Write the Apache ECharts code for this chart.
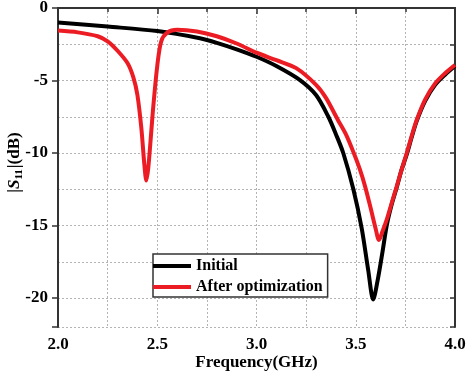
<!DOCTYPE html>
<html>
<head>
<meta charset="utf-8">
<script src="https://cdn.jsdelivr.net/npm/echarts@6/dist/echarts.min.js"></script>
<style>
  html, body { margin: 0; padding: 0; background: #fff; }
  #chart { width: 467px; height: 376px; }
</style>
</head>
<body>
<div id="chart"></div>
<script>
// 数据: 频率 (GHz) / |S11| (dB)
var freqInitial = [2.0, 2.25, 2.5, 2.715, 2.8, 2.9, 3.0, 3.1, 3.219, 3.3, 3.362, 3.40, 3.437, 3.488, 3.53, 3.563, 3.588,
  3.61, 3.635, 3.656, 3.68, 3.706, 3.73, 3.757, 3.78, 3.807, 3.85, 3.9, 3.95, 4.0];
var s11Initial = [-1.0, -1.28, -1.59, -2.09, -2.4, -2.85, -3.36, -4.0, -4.97, -6.0, -7.5, -8.7, -10.0, -12.5, -15.2, -18.1, -20.1,
  -18.8, -16.8, -15.0, -13.6, -12.4, -11.2, -10.1, -9.0, -7.8, -6.4, -5.3, -4.6, -4.0];

var freqOptimized = [2.0, 2.1, 2.2, 2.25, 2.3, 2.35, 2.38, 2.40, 2.42, 2.435, 2.445, 2.455, 2.47, 2.48, 2.50, 2.52, 2.55, 2.6,
  2.7, 2.8, 2.9, 3.0, 3.1, 3.2, 3.3, 3.35, 3.41, 3.45, 3.49, 3.52, 3.547, 3.575, 3.6, 3.617, 3.635, 3.656, 3.68, 3.706,
  3.73, 3.757, 3.78, 3.807, 3.85, 3.9, 3.95, 4.0];
var s11Optimized = [-1.56, -1.68, -1.95, -2.3, -2.95, -3.8, -4.8, -6.0, -8.3, -10.8, -11.9, -11.0, -8.5, -6.8, -4.0, -2.3, -1.7, -1.5,
  -1.62, -1.95, -2.45, -3.08, -3.6, -4.15, -5.3, -6.2, -7.72, -8.7, -10.0, -11.1, -12.3, -13.8, -15.2, -16.0, -15.4, -14.6, -13.5, -12.32,
  -11.2, -10.0, -8.9, -7.72, -6.3, -5.2, -4.5, -3.93];

var seriesNames = ['Initial', 'After optimization'];
var seriesColors = ['#000000', '#ec1c24'];

function zip(xs, ys) {
  return xs.map(function (x, i) { return [x, ys[i]]; });
}

var FONT = '"Liberation Serif", "Times New Roman", serif';
var gridLine = { show: true, lineStyle: { color: '#b4b4b4', type: [2, 2], width: 1 } };
var axisLineStyle = { color: '#333', width: 2 };

var chart = echarts.init(document.getElementById('chart'));

chart.setOption({
  animation: false,
  backgroundColor: '#fff',
  textStyle: { fontFamily: FONT },
  grid: { left: 58, right: 12, top: 8, bottom: 49, containLabel: false, outerBoundsMode: 'none' },
  legend: {
    data: seriesNames,
    orient: 'vertical',
    left: 153,
    top: 254,
    icon: 'rect',
    itemWidth: 38,
    itemHeight: 4,
    itemGap: 3,
    padding: [3, 5, 1, 0],
    backgroundColor: '#fff',
    borderColor: '#333',
    borderWidth: 1.5,
    borderRadius: 0,
    textStyle: { fontFamily: FONT, fontWeight: 'bold', fontSize: 16, color: '#000', lineHeight: 18 }
  },
  xAxis: [
    {
      type: 'value',
      position: 'bottom',
      min: 2.0,
      max: 4.0,
      interval: 0.5,
      name: 'Frequency(GHz)',
      nameLocation: 'middle',
      nameGap: 27,
      nameMoveOverlap: false,
      nameTextStyle: { fontFamily: FONT, fontWeight: 'bold', fontSize: 17, color: '#000' },
      axisLine: { show: true, lineStyle: axisLineStyle },
      axisTick: { show: true, inside: false, length: 6, lineStyle: { color: '#333', width: 1.5 } },
      minorTick: { show: true, splitNumber: 2, length: 3, lineStyle: { color: '#333', width: 1.5 } },
      axisLabel: {
        margin: 9,
        fontFamily: FONT, fontWeight: 'bold', fontSize: 17, color: '#000',
        formatter: function (v) { return v.toFixed(1); }
      },
      splitLine: gridLine,
      minorSplitLine: gridLine
    },
    {
      type: 'value',
      position: 'top',
      min: 2.0,
      max: 4.0,
      interval: 0.25,
      axisLine: { show: true, lineStyle: axisLineStyle },
      axisTick: { show: true, inside: true, length: 4, lineStyle: { color: '#333', width: 1.5 } },
      axisLabel: { show: false },
      splitLine: { show: false }
    }
  ],
  yAxis: [
    {
      type: 'value',
      position: 'left',
      min: -22,
      max: 0,
      name: '|{i|S}{s|11}|(dB)',
      nameLocation: 'middle',
      nameRotate: 90,
      nameGap: 33,
      nameMoveOverlap: false,
      nameTextStyle: {
        fontFamily: FONT, fontWeight: 'bold', fontSize: 17, color: '#000',
        padding: [0, 0, 0, 10],
        rich: {
          i: { fontFamily: FONT, fontWeight: 'bold', fontStyle: 'italic', fontSize: 17, color: '#000' },
          s: { fontFamily: FONT, fontWeight: 'bold', fontSize: 11, color: '#000', padding: [9, 1, 0, 0] }
        }
      },
      axisLine: { show: true, lineStyle: axisLineStyle },
      axisTick: { show: true, inside: false, length: 6, lineStyle: { color: '#333', width: 1.5 } },
      axisLabel: {
        margin: 10,
        fontFamily: FONT, fontWeight: 'bold', fontSize: 17, color: '#000',
        formatter: function (v) { return v % 5 === 0 ? String(v) : ''; }
      },
      splitLine: { show: false }
    },
    {
      // 右侧镜像轴: 幅度 (正值, 反向), 用于网格线和内侧刻度
      type: 'value',
      position: 'right',
      inverse: true,
      min: 0,
      max: 22,
      interval: 2.5,
      axisLine: { show: true, lineStyle: axisLineStyle },
      axisTick: { show: true, inside: true, length: 5, lineStyle: { color: '#333', width: 1.5 } },
      axisLabel: { show: false },
      splitLine: gridLine
    }
  ],
  series: [
    {
      name: seriesNames[0],
      type: 'line',
      xAxisIndex: 0,
      yAxisIndex: 0,
      data: zip(freqInitial, s11Initial),
      showSymbol: false,
      smooth: 0.3,
      color: seriesColors[0],
      lineStyle: { width: 4, color: seriesColors[0] }
    },
    {
      name: seriesNames[1],
      type: 'line',
      xAxisIndex: 0,
      yAxisIndex: 0,
      data: zip(freqOptimized, s11Optimized),
      showSymbol: false,
      smooth: 0.3,
      color: seriesColors[1],
      lineStyle: { width: 4, color: seriesColors[1] }
    }
  ]
});
</script>
</body>
</html>
